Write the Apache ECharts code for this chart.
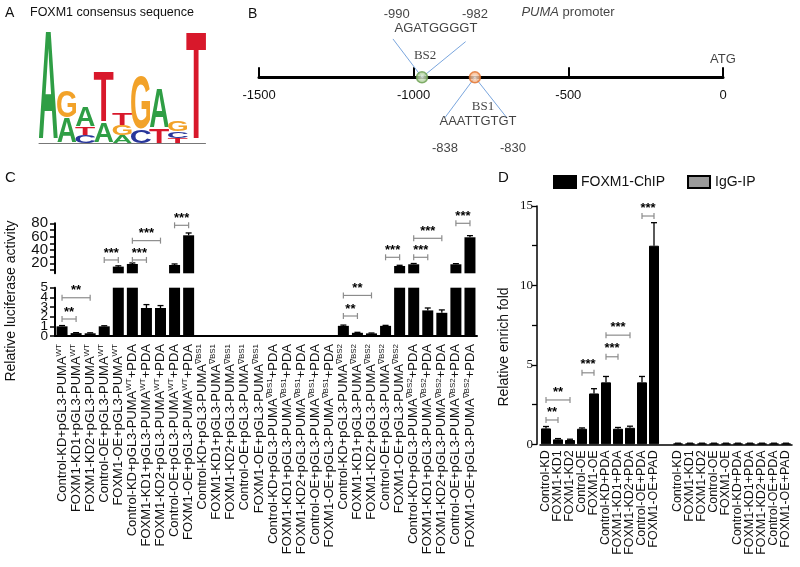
<!DOCTYPE html>
<html><head><meta charset="utf-8">
<script src="https://cdn.jsdelivr.net/npm/echarts@6/dist/echarts.min.js"></script>
<style>html,body{margin:0;padding:0;background:#fff}#c{width:800px;height:567px}</style>
</head><body><div id="c"></div>
<script>
// ---------- Panel A: sequence logo (bottom to top in each column, in bits) ----------
const logoPositions = ['1','2','3','4','5','6','7','8','9'];
const logoLetters = [['A'],['A','G'],['C','T','A'],['A','T'],['A','G','T'],['C','G'],['T','A'],['T','C','G'],['T']];
const logoHeights = [[2.0],[0.45,0.48],[0.15,0.15,0.36],[0.36,0.91],[0.15,0.18,0.21],[0.24,0.97],[0.27,0.73],[0.09,0.13,0.2],[1.97]];

// ---------- Panel B: PUMA promoter ----------
const promoterRange = [-1500, 0];
const siteNames = ['BS2', 'BS1'];
const sitePositions = [-973, -802];
const bs2Leader = [[-1067, 0.57], [-973, 0], [-832, 0.53]];
const bs1Leader = [[-899, -0.6], [-802, 0], [-699, -0.6]];
const promoterTexts = [
  ['-990', -1055, 0.94], ['-982', -802, 0.94], ['AGATGGGGT', -928, 0.72],
  ['AAATTGTGT', -792, -0.66], ['-838', -899, -1.05], ['-830', -679, -1.05],
  ['ATG', 0, 0.26]
];
const siteLabels = [['BS2', -963, 0.33], ['BS1', -776, -0.44]];

// ---------- Panel C: luciferase ----------
const cGroups = ['Control-KD','FOXM1-KD1','FOXM1-KD2','Control-OE','FOXM1-OE'];
const cConstructs = ['WT','∇BS1','∇BS2'];
const cValues = [1.0,0.3,0.28,1.0,15, 19,2.9,2.9,17.5,62,
                 0,0,0,0,0, 0,0,0,0,0,
                 1.05,0.33,0.27,1.05,16, 18.5,2.65,2.4,18.5,59];
const cErrors = [0.08,0.05,0.05,0.06,1.2, 1.5,0.35,0.25,1.5,3.5,
                 0,0,0,0,0, 0,0,0,0,0,
                 0.08,0.05,0.04,0.05,1.0, 1.2,0.25,0.3,1.0,2.5];
// [from, to, y, stars]
const cBracketsLower = [[0,1,1.76,2],[0,2,3.96,2],[20,21,2.07,2],[20,22,4.2,2]];
const cBracketsUpper = [[3,4,25,3],[5,6,25,3],[5,7,54,3],[8,9,77,3],
                        [23,24,29,3],[25,26,29,3],[25,27,57.5,3],[28,29,80,3]];
const cUpperTicks = [10,20,30,40,50,60,70,80];
const cUpperLabels = [20,40,60,80];
const cLowerLabels = [0,1,2,3,4,5];

// ---------- Panel D: ChIP ----------
const dNames = ['Control-KD','FOXM1-KD1','FOXM1-KD2','Control-OE','FOXM1-OE','Control-KD+PDA','FOXM1-KD1+PDA','FOXM1-KD2+PDA','Control-OE+PDA','FOXM1-OE+PAD'];
const dChip = [1.0,0.31,0.27,0.98,3.2,3.9,0.98,1.04,3.9,12.5];
const dChipErr = [0.12,0.05,0.05,0.05,0.3,0.37,0.08,0.1,0.37,1.45];
const dIgg = [0.05,0.05,0.05,0.05,0.05,0.05,0.05,0.05,0.05,0.05];
const dIggErr = [0.02,0.02,0.02,0.02,0.02,0.02,0.02,0.02,0.02,0.02];
const dBrackets = [[0,1,1.53,2],[0,2,2.79,2],[3,4,4.5,3],[5,6,5.51,3],[5,7,6.87,3],[8,9,14.37,3]];

// ================= build =================
const SANS = 'Liberation Sans', SERIF = 'Liberation Serif';
const logoColors = {A:'#2f9e45', G:'#f2a229', T:'#d8182b', C:'#28369a'};
const glyphVis = {A:0.69, C:0.63, G:0.69, T:0.58};
const logoData = [];
logoLetters.forEach((col, i) => {
  let y = 0;
  col.forEach((L, k) => { const h = logoHeights[i][k]; logoData.push([i, y, y + h, L]); y += h; });
});

const cCategories = [];
cConstructs.forEach(c => {
  cGroups.forEach(g => cCategories.push(g + '+pGL3-PUMA^' + c));
  cGroups.forEach(g => cCategories.push(g + '+pGL3-PUMA^' + c + '+PDA'));
});
function cLabel(v) {
  const parts = v.split('^');
  const m = parts[1].match(/^(WT|∇BS1|∇BS2)(.*)$/);
  return '{n|' + parts[0] + '}{s|' + m[1] + '}' + (m[2] ? '{n|' + m[2] + '}' : '');
}
const dCategories = dNames.concat(['']).concat(dNames);
const dChipSeries = dChip.concat(new Array(11).fill('-'));
const dIggSeries = new Array(11).fill('-').concat(dIgg);

function errItem(capW) {
  return function (params, api) {
    const i = api.value(0), v = api.value(1), e = api.value(2);
    const p0 = api.coord([i, v]), p1 = api.coord([i, v + e]);
    const st = {stroke: '#000', lineWidth: 1.3};
    return {type: 'group', children: [
      {type: 'line', shape: {x1: p0[0], y1: p0[1], x2: p1[0], y2: p1[1]}, style: st},
      {type: 'line', shape: {x1: p1[0] - capW, y1: p1[1], x2: p1[0] + capW, y2: p1[1]}, style: st}
    ]};
  };
}
function bracketItem(off) {
  return function (params, api) {
    const a = api.value(0), b = api.value(1), y = api.value(2), n = api.value(3);
    const p1 = api.coord([a, y]), p2 = api.coord([b, y]);
    const st = {stroke: '#8c8c8c', lineWidth: 1.2};
    return {type: 'group', children: [
      {type: 'line', shape: {x1: p1[0], y1: p1[1], x2: p2[0], y2: p2[1]}, style: st},
      {type: 'line', shape: {x1: p1[0], y1: p1[1] - 3, x2: p1[0], y2: p1[1] + 3}, style: st},
      {type: 'line', shape: {x1: p2[0], y1: p2[1] - 3, x2: p2[0], y2: p2[1] + 3}, style: st},
      {type: 'text', x: (p1[0] + p2[0]) / 2, y: p1[1] - off,
       style: {text: '*'.repeat(n), align: 'center', verticalAlign: 'middle', fontSize: 13, fontWeight: 'bold', fontFamily: SANS, fill: '#000'}}
    ]};
  };
}
// y tick labels of the broken axis, placed by the axis scale
function yLabelItem(fontSize) {
  return function (params, api) {
    const v = api.value(1);
    const p = api.coord([0, v]);
    const left = p[0] - api.size([1, 0])[0] / 2;
    return {type: 'text', x: left - 7, y: p[1],
      style: {text: String(v), align: 'right', verticalAlign: 'middle', fontSize: fontSize, fontFamily: SANS, fill: '#111'}};
  };
}
function logoItem(params, api) {
  const d = logoData[params.dataIndex];
  const p0 = api.coord([d[0], d[1]]), p1 = api.coord([d[0], d[2]]);
  const bw = api.size([1, 0])[0] * 1.04;
  const h = p0[1] - p1[1];
  const F = 100;
  const sy = h / (0.716 * F);
  return {type: 'text', x: p0[0], y: (p0[1] + p1[1]) / 2 + 0.048 * F * sy,
    scaleX: bw / (glyphVis[d[3]] * F), scaleY: sy,
    style: {text: d[3], x: 0, y: 0, fontSize: F, fontWeight: 'bold', fontFamily: SANS, fill: logoColors[d[3]], align: 'center', verticalAlign: 'middle'}};
}

const cUpperErr = [], cLowerErr = [], cUpperVals = [];
cValues.forEach((v, i) => {
  if (v > 5) { cUpperErr.push([i, v, cErrors[i]]); cUpperVals.push(v); }
  else { cUpperVals.push('-'); if (v > 0) cLowerErr.push([i, v, cErrors[i]]); }
});
const dErr = [];
dChip.forEach((v, i) => dErr.push([i, v, dChipErr[i]]));
dIgg.forEach((v, i) => dErr.push([i + 11, v, dIggErr[i]]));

const txt = (t, x, y, o) => Object.assign({type: 'text', x: x, y: y, style: Object.assign({text: t, fontSize: 14, fontFamily: SANS, fill: '#111', align: 'left', verticalAlign: 'middle'}, o && o.style)}, o && o.el);
const blackAxis = w => ({show: true, lineStyle: {color: '#000', width: w}});

const option = {
  animation: false,
  backgroundColor: '#fff',
  textStyle: {fontFamily: SANS},
  legend: {data: ['FOXM1-ChIP', 'IgG-IP'], left: 548, top: 170, itemWidth: 22, itemHeight: 12, itemGap: 22, icon: 'rect',
    textStyle: {fontSize: 14, color: '#111', fontFamily: SANS}},
  grid: [
    {left: 39, top: 33.3, width: 166.5, height: 110},         // A
    {left: 259, top: 10, width: 464, height: 67.3},           // B
    {left: 55, top: 223.3, width: 422, height: 50},           // C upper
    {left: 55, top: 287.7, width: 422, height: 48.3},         // C lower
    {left: 540, top: 206, width: 252, height: 238.3}          // D
  ],
  xAxis: [
    {gridIndex: 0, type: 'category', data: logoPositions, offset: 6,
      axisLine: {lineStyle: {color: '#777', width: 1}}, axisTick: {alignWithLabel: true, length: 4, lineStyle: {color: '#777'}},
      axisLabel: {show: false}},
    {gridIndex: 1, type: 'value', min: promoterRange[0], max: promoterRange[1], interval: 500,
      axisLine: {onZero: false, lineStyle: {color: '#000', width: 3}},
      axisTick: {inside: true, length: 10, lineStyle: {color: '#000', width: 2}},
      axisLabel: {fontSize: 13, color: '#111', margin: 12, showMinLabel: true, showMaxLabel: true, formatter: v => String(v)},
      splitLine: {show: false}},
    {gridIndex: 2, type: 'category', data: cCategories, show: false},
    {gridIndex: 3, type: 'category', data: cCategories,
      axisLine: blackAxis(2), axisTick: {length: 5, lineStyle: {color: '#000', width: 1.5}},
      axisLabel: {interval: 0, rotate: 90, margin: 8, formatter: cLabel, hideOverlap: false,
        rich: {n: {fontSize: 13, fontFamily: SANS, color: '#111', lineHeight: 15},
               s: {fontSize: 8, fontFamily: SANS, color: '#111', lineHeight: 9, verticalAlign: 'top'}}}},
    {gridIndex: 4, type: 'category', data: dCategories,
      axisLine: blackAxis(1.5), axisTick: {show: false},
      axisLabel: {interval: 0, rotate: 90, margin: 6, fontSize: 12.5, color: '#111', fontFamily: SANS, hideOverlap: false}}
  ],
  yAxis: [
    {gridIndex: 0, type: 'value', min: 0, max: 2, show: false},
    {gridIndex: 1, type: 'value', min: 0, max: 1, show: false},
    {gridIndex: 2, type: 'value', min: 5, max: 80,
      axisLine: blackAxis(2), splitLine: {show: false},
      axisTick: {show: true, length: 5, customValues: cUpperTicks, lineStyle: {color: '#000', width: 1.5}},
      axisLabel: {show: false}},
    {gridIndex: 3, type: 'value', min: 0, max: 5, interval: 1,
      axisLine: blackAxis(2), splitLine: {show: false},
      axisTick: {show: true, length: 5, lineStyle: {color: '#000', width: 1.5}},
      axisLabel: {show: false}},
    {gridIndex: 4, type: 'value', min: 0, max: 15, interval: 2.5, offset: 3,
      axisLine: blackAxis(1.5), splitLine: {show: false},
      axisTick: {show: true, length: 5, lineStyle: {color: '#000', width: 1.3}},
      axisLabel: {fontSize: 13, color: '#111', fontFamily: SERIF, margin: 4, showMinLabel: true, showMaxLabel: true, formatter: v => (v % 5 === 0 ? String(v) : '')}}
  ],
  series: [
    {type: 'custom', xAxisIndex: 0, yAxisIndex: 0, data: logoData.map(d => [d[0], d[1], d[2]]),
      encode: {x: 0, y: [1, 2]}, renderItem: logoItem, clip: false},
    {type: 'line', xAxisIndex: 1, yAxisIndex: 1, data: bs2Leader, symbol: 'none', clip: false, lineStyle: {color: '#7aa6de', width: 1}, z: 2},
    {type: 'line', xAxisIndex: 1, yAxisIndex: 1, data: bs1Leader, symbol: 'none', clip: false, lineStyle: {color: '#7aa6de', width: 1}, z: 2},
    {type: 'scatter', xAxisIndex: 1, yAxisIndex: 1, symbolSize: 11, z: 5, clip: false,
      data: sitePositions.map((x, i) => ({value: [x, 0], name: siteNames[i],
        itemStyle: i === 0
          ? {color: {type: 'radial', x: 0.5, y: 0.5, r: 0.5, colorStops: [{offset: 0, color: '#eef5e8'}, {offset: 1, color: '#8fbd75'}]}, borderColor: '#6a9f50', borderWidth: 1.5}
          : {color: {type: 'radial', x: 0.5, y: 0.5, r: 0.5, colorStops: [{offset: 0, color: '#fdf0e6'}, {offset: 1, color: '#f39a5d'}]}, borderColor: '#e0702c', borderWidth: 1.5}}))},
    {type: 'scatter', xAxisIndex: 1, yAxisIndex: 1, symbolSize: 0, clip: false, silent: true,
      data: promoterTexts.map(t => ({value: [t[1], t[2]], name: t[0]}))
        .concat(siteLabels.map(t => ({value: [t[1], t[2]], name: t[0], label: {fontFamily: SERIF, fontSize: 13}})))
        .concat([{value: [-501, 0.96], name: 'PUMA promoter', label: {formatter: '{i|PUMA} promoter'}}]),
      label: {show: true, position: 'inside', formatter: '{b}', fontSize: 13, color: '#111', fontFamily: SANS,
        rich: {i: {fontStyle: 'italic', fontSize: 13, fontFamily: SANS, color: '#111'}}}},
    // C upper
    {type: 'bar', xAxisIndex: 2, yAxisIndex: 2, data: cUpperVals, barWidth: 11, itemStyle: {color: '#000'}, clip: true},
    {type: 'custom', xAxisIndex: 2, yAxisIndex: 2, data: cUpperErr, encode: {x: 0, y: 1}, renderItem: errItem(3), clip: false},
    {type: 'custom', xAxisIndex: 2, yAxisIndex: 2, data: cBracketsUpper, encode: {x: [0, 1], y: 2}, renderItem: bracketItem(7), clip: false},
    {type: 'custom', xAxisIndex: 2, yAxisIndex: 2, data: cUpperLabels.map(v => [0, v]), encode: {x: 0, y: 1}, renderItem: yLabelItem(15), clip: false, silent: true},
    // C lower
    {type: 'bar', xAxisIndex: 3, yAxisIndex: 3, data: cValues, barWidth: 11, itemStyle: {color: '#000'}, clip: true},
    {type: 'custom', xAxisIndex: 3, yAxisIndex: 3, data: cLowerErr, encode: {x: 0, y: 1}, renderItem: errItem(3), clip: false},
    {type: 'custom', xAxisIndex: 3, yAxisIndex: 3, data: cBracketsLower, encode: {x: [0, 1], y: 2}, renderItem: bracketItem(7), clip: false},
    {type: 'custom', xAxisIndex: 3, yAxisIndex: 3, data: cLowerLabels.map(v => [0, v]), encode: {x: 0, y: 1}, renderItem: yLabelItem(13.5), clip: false, silent: true},
    // D
    {name: 'FOXM1-ChIP', type: 'bar', xAxisIndex: 4, yAxisIndex: 4, data: dChipSeries, barWidth: 10, barGap: '-100%', itemStyle: {color: '#000', borderColor: '#000', borderWidth: 1}},
    {name: 'IgG-IP', type: 'bar', xAxisIndex: 4, yAxisIndex: 4, data: dIggSeries, barWidth: 10, barGap: '-100%', itemStyle: {color: '#9a9a9a', borderColor: '#000', borderWidth: 1.5}},
    {type: 'custom', xAxisIndex: 4, yAxisIndex: 4, data: dErr, encode: {x: 0, y: 1}, renderItem: errItem(3), clip: false},
    {type: 'custom', xAxisIndex: 4, yAxisIndex: 4, data: dBrackets, encode: {x: [0, 1], y: 2}, renderItem: bracketItem(8), clip: false}
  ],
  graphic: [
    txt('A', 5, 13, {style: {fontSize: 14}}),
    txt('FOXM1 consensus sequence', 30, 13, {style: {fontSize: 12.5}}),
    txt('B', 248, 14, {style: {fontSize: 14}}),
    txt('C', 5, 178, {style: {fontSize: 15}}),
    txt('D', 498, 178, {style: {fontSize: 15}}),
    txt('Relative luciferase activity', 11, 301, {style: {fontSize: 14, align: 'center'}, el: {rotation: Math.PI / 2}}),
    txt('Relative enrich fold', 504, 347, {style: {fontSize: 14, align: 'center'}, el: {rotation: Math.PI / 2}})
  ]
};
const chart = echarts.init(document.getElementById('c'), null, {renderer: 'canvas'});
chart.setOption(option);
</script></body></html>
